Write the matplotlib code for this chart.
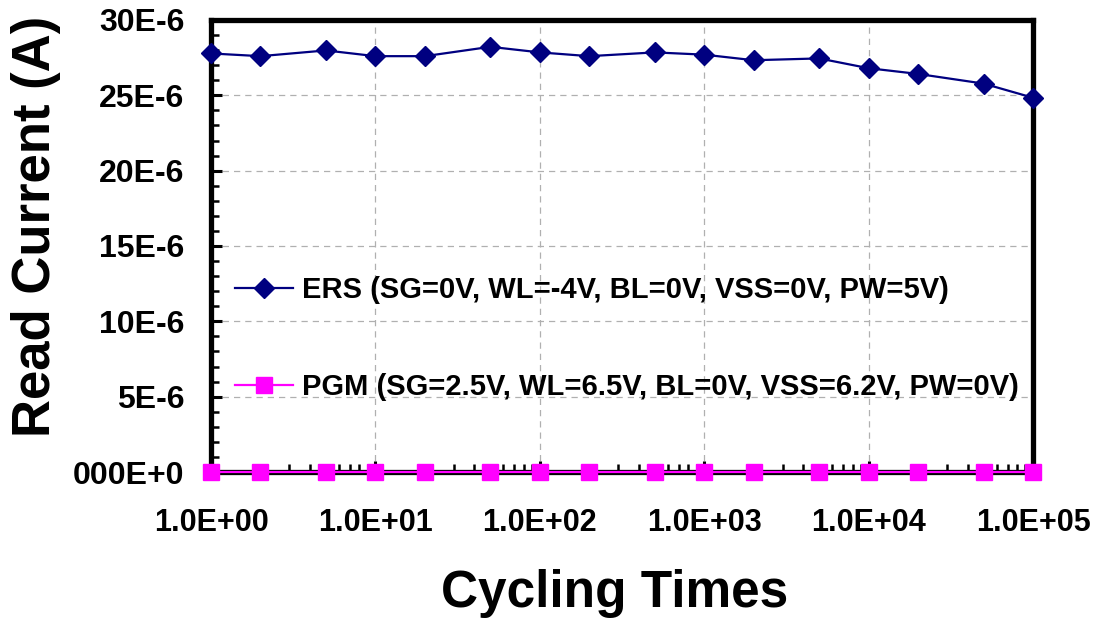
import matplotlib
matplotlib.use("Agg")
import matplotlib.pyplot as plt
from matplotlib.ticker import FixedLocator, FixedFormatter, LogLocator, NullFormatter, MultipleLocator

plt.rcParams['font.family'] = ['Liberation Sans', 'DejaVu Sans']
plt.rcParams['font.weight'] = 'bold'

cycles = [1, 2, 5, 10, 20, 50, 100, 200, 500, 1000, 2000, 5000, 10000, 20000, 50000, 100000]
ers_current = [27.78e-6, 27.6e-6, 27.98e-6, 27.6e-6, 27.6e-6, 28.22e-6, 27.85e-6, 27.6e-6,
               27.85e-6, 27.7e-6, 27.33e-6, 27.45e-6, 26.8e-6, 26.42e-6, 25.78e-6, 24.84e-6]
pgm_current = [0.0] * len(cycles)

ers_label = "ERS (SG=0V, WL=-4V, BL=0V, VSS=0V, PW=5V)"
pgm_label = "PGM (SG=2.5V, WL=6.5V, BL=0V, VSS=6.2V, PW=0V)"

y_ticks = [0, 5e-6, 10e-6, 15e-6, 20e-6, 25e-6, 30e-6]
y_tick_labels = ["000E+0", "5E-6", "10E-6", "15E-6", "20E-6", "25E-6", "30E-6"]
x_ticks = [1, 10, 100, 1000, 10000, 100000]
x_tick_labels = ["1.0E+00", "1.0E+01", "1.0E+02", "1.0E+03", "1.0E+04", "1.0E+05"]

fig = plt.figure(figsize=(10.98, 6.22), dpi=100)
ax = fig.add_axes([211 / 1098, 1 - 472 / 622, (1033 - 211) / 1098, (472 - 20) / 622])

ax.set_xscale('log')
ax.set_xlim(1, 1e5)
ax.set_ylim(0, 30e-6)

ax.grid(True, which='major', color='#b0b0b0', linestyle=(0, (5, 4)), linewidth=0.9)
ax.set_axisbelow(True)

ax.plot(cycles, ers_current, color='#000080', linewidth=1.6, marker='D', markersize=10,
        markerfacecolor='#000080', markeredgecolor='#000080', label=ers_label,
        clip_on=False, zorder=4)
ax.plot(cycles, pgm_current, color='#ff00ff', linewidth=1.6, marker='s', markersize=12,
        markerfacecolor='#ff00ff', markeredgecolor='#ff00ff', label=pgm_label,
        clip_on=False, zorder=5)

ax.yaxis.set_major_locator(FixedLocator(y_ticks))
ax.yaxis.set_major_formatter(FixedFormatter(y_tick_labels))
ax.yaxis.set_minor_locator(MultipleLocator(1e-6))
ax.xaxis.set_major_locator(FixedLocator(x_ticks))
ax.xaxis.set_major_formatter(FixedFormatter(x_tick_labels))
ax.xaxis.set_minor_locator(LogLocator(base=10, subs=range(2, 10)))
ax.xaxis.set_minor_formatter(NullFormatter())

ax.tick_params(axis='both', which='major', direction='in', length=8, width=2.2)
ax.tick_params(axis='both', which='minor', direction='in', length=6, width=1.8)
ax.tick_params(axis='x', which='major', labelsize=22, pad=26)
ax.tick_params(axis='y', which='major', labelsize=23, pad=19)
ax.tick_params(axis='y', which='both', right=False)
ax.tick_params(axis='x', which='both', top=False)
for lbl in ax.get_xticklabels() + ax.get_yticklabels():
    lbl.set_fontweight('bold')

for side in ['left', 'right', 'top', 'bottom']:
    ax.spines[side].set_linewidth(3.8)
    ax.spines[side].set_zorder(3)

ax.set_xlabel("Cycling Times", fontsize=37, fontweight='bold')
ax.xaxis.set_label_coords((615 - 211) / 822, (472 - 569) / 452)
ax.set_ylabel("Read Current (A)", fontsize=38, fontweight='bold')
ax.yaxis.set_label_coords((61 - 211) / 822, (472 - 226) / 452)

leg = ax.legend(loc='center left', bbox_to_anchor=((223 - 211) / 822, (472 - 338.5) / 452),
                frameon=False, fontsize=21, handlelength=2.0, handletextpad=0.3,
                labelspacing=2.35, borderaxespad=0.0)
for t in leg.get_texts():
    t.set_fontweight('bold')

fig.savefig("out.png", dpi=100)
